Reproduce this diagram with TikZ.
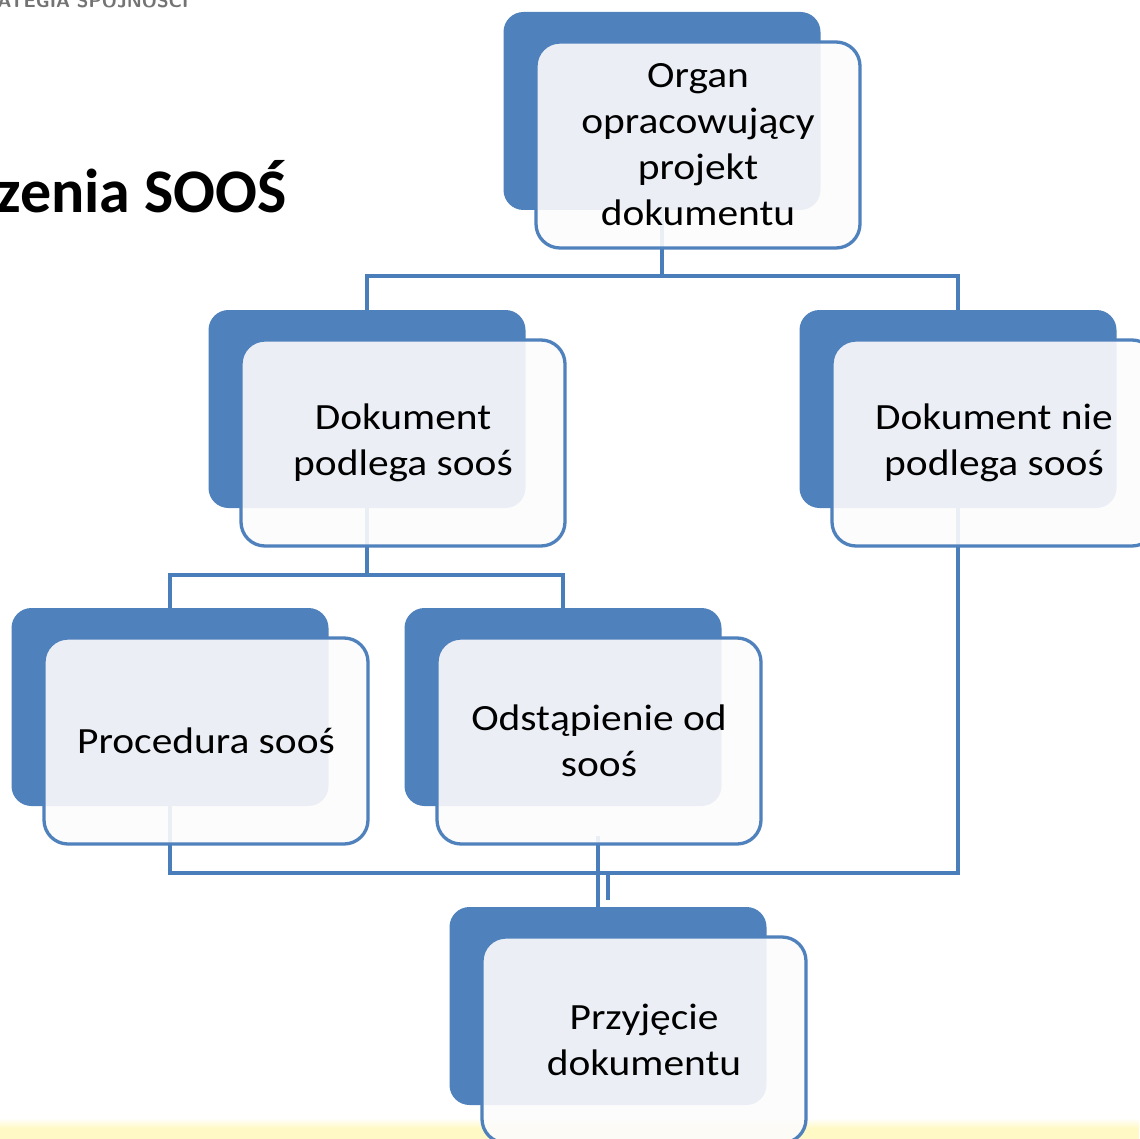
\documentclass[tikz,border=0pt]{standalone}
\usepackage{fontspec}
\setmainfont{Carlito}
\newfontfamily\boxfont[FakeStretch=1.12]{Carlito}
\newfontfamily\titlefont[FakeStretch=1.0]{Carlito}
\definecolor{obl}{HTML}{4F81BD}
\definecolor{lineblue}{HTML}{4A7EBB}
\definecolor{paleyellow}{HTML}{FFF9C6}
\begin{document}
\begin{tikzpicture}[x=1pt,y=-1pt,
  backbox/.style={fill=obl, draw=none, rounded corners=20pt, minimum width=317pt, minimum height=198pt, inner sep=0pt},
  frontbox/.style={fill=white!99!black, fill opacity=0.9, text opacity=1, draw=obl, line width=3.3pt, rounded corners=24pt, minimum width=324pt, minimum height=206pt, inner sep=0pt, align=center, font=\boxfont\fontsize{37}{46}\selectfont},
  conn/.style={draw=lineblue, line width=3.6pt}
]
\useasboundingbox (0,0) rectangle (1139,1139);
\fill[white] (0,0) rectangle (1139,1139);
\shade[top color=white, bottom color=paleyellow] (0,1118) rectangle (1139,1128);
\fill[paleyellow] (0,1128) rectangle (1139,1139);

% header texts
\node[anchor=base west, inner sep=0pt, text=black!55, font=\sffamily\bfseries\fontsize{19}{19}\selectfont] (logo) at (-16,8) {RATEGIA SPÓJNOŚCI};
\node[anchor=base east, inner sep=0pt, font=\titlefont\bfseries\fontsize{62}{62}\selectfont] (title) at (287,213) {zenia SOOŚ};

% back boxes
\node[backbox] (b1) at (662,111) {};
\node[backbox] (b2) at (367,409) {};
\node[backbox] (b3) at (958,409) {};
\node[backbox] (b4) at (170,707) {};
\node[backbox] (b5) at (563,707) {};
\node[backbox] (b6) at (608,1006) {};

% connectors
\coordinate (j1) at (662,276);
\coordinate (j2) at (367,575);
\coordinate (j3) at (608,873);
\coordinate (j4) at (608,900);
\coordinate (k1) at (598,836);
\draw[conn] (b1.south) -- (j1);
\draw[conn] (b2.north) |- (j1) -| (b3.north);
\draw[conn] (b2.south) -- (j2);
\draw[conn] (b4.north) |- (j2) -| (b5.north);
\draw[conn] (b4.south) |- (j3) -| (b3.south);
\draw[conn] (j3) -- (j4);
\draw[conn] (k1) -- (k1 |- b6.north);

% front boxes
\node[frontbox] (f1) at (698,145) {Organ\\opracowujący\\projekt\\dokumentu};
\node[frontbox] (f2) at (403,443) {Dokument\\podlega sooś};
\node[frontbox] (f3) at (994,443) {Dokument nie\\podlega sooś};
\node[frontbox] (f4) at (206,741) {Procedura sooś};
\node[frontbox] (f5) at (599,741) {Odstąpienie od\\sooś};
\node[frontbox] (f6) at (644,1040) {Przyjęcie\\dokumentu};
\end{tikzpicture}
\end{document}
